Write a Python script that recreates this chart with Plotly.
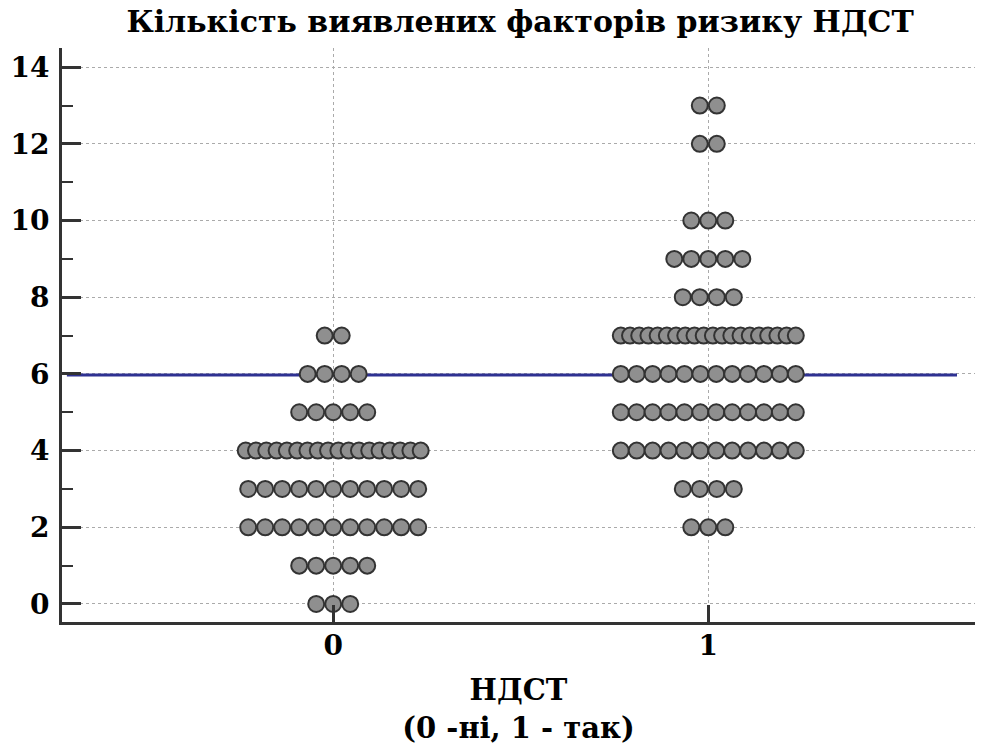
import plotly.graph_objects as go
import numpy as np

# Data: number of patients at each count of risk factors, per group
groups = [0, 1]
group_labels = ["0", "1"]
values_g0 = [0, 1, 2, 3, 4, 5, 6, 7]
counts_g0 = [3, 5, 11, 11, 18, 5, 4, 2]
values_g1 = [2, 3, 4, 5, 6, 7, 8, 9, 10, 12, 13]
counts_g1 = [3, 4, 12, 12, 12, 20, 4, 5, 3, 2, 2]
mean_line_value = 5.97

y_ticks = [0, 2, 4, 6, 8, 10, 12, 14]

title = "Кількість виявлених факторів ризику НДСТ"
x_title = "НДСТ<br>(0 -ні, 1 - так)"

# layout params
X_RANGE = [-0.723, 1.711]
Y_RANGE = [-0.47, 14.5]
PLOT_W = 913  # px
px_per_unit = PLOT_W / (X_RANGE[1] - X_RANGE[0])
max_span_px = 175
base_step_px = 17


def swarm(group, values, counts):
    xs, ys = [], []
    for v, n in zip(values, counts):
        step = base_step_px if n <= 1 else min(base_step_px, max_span_px / (n - 1))
        offs = (np.arange(n) - (n - 1) / 2) * step / px_per_unit
        xs.extend(group + offs)
        ys.extend([v] * n)
    return xs, ys


fig = go.Figure()

# mean line
fig.add_trace(go.Scatter(
    x=[X_RANGE[0] + 0.013, X_RANGE[1] - 0.048], y=[mean_line_value, mean_line_value],
    mode="lines", line=dict(color="#2e3192", width=3), hoverinfo="skip", showlegend=False))

for g, vals, cnts in [(groups[0], values_g0, counts_g0), (groups[1], values_g1, counts_g1)]:
    xs, ys = swarm(g, vals, cnts)
    fig.add_trace(go.Scatter(
        x=xs, y=ys, mode="markers", showlegend=False,
        marker=dict(symbol="circle", size=16, color="#8f8f8f",
                    line=dict(color="#333333", width=2))))

font_family = "DejaVu Serif"
FS_T = 30
FS_X = 29
FS_TICK = 28
fig.update_layout(
    width=985, height=749,
    margin=dict(l=62, r=10, t=48, b=127, autoexpand=False),
    paper_bgcolor="white", plot_bgcolor="white",
    title=dict(text="<b>" + title + "</b>", x=0.528, xanchor="center", y=0.971, yanchor="middle",
               font=dict(family=font_family, size=FS_T, color="black")),
    font=dict(family=font_family, color="black"),
)

fig.update_xaxes(
    range=X_RANGE, tickmode="array", tickvals=groups, automargin=False,
    ticktext=["<b>" + t + "</b>" for t in group_labels],
    tickfont=dict(size=FS_TICK, family=font_family, color="black"),
    ticks="inside", ticklen=17, tickwidth=3, tickcolor="#333333",
    ticklabelstandoff=-4,
    showline=True, linecolor="#333333", linewidth=3,
    showgrid=True, gridcolor="#aaaaaa", griddash="dot", gridwidth=1,
    zeroline=False,
    title=dict(text="<b>" + x_title + "</b>", font=dict(size=FS_X, family=font_family, color="black"),
               standoff=20),
)
fig.update_yaxes(
    range=Y_RANGE, tickmode="array", tickvals=y_ticks, automargin=False,
    ticktext=["<b>" + str(t) + "</b>" for t in y_ticks],
    tickfont=dict(size=FS_TICK, family=font_family, color="black"),
    ticks="inside", ticklen=19, tickwidth=3, tickcolor="#333333",
    ticklabelstandoff=4,
    showline=True, linecolor="#333333", linewidth=3,
    showgrid=True, gridcolor="#aaaaaa", griddash="dot", gridwidth=1,
    zeroline=False,
    minor=dict(dtick=1, tick0=1, ticks="inside", ticklen=11, tickwidth=1.5, tickcolor="#333333",
               showgrid=False),
)

fig.write_html("out.html")
